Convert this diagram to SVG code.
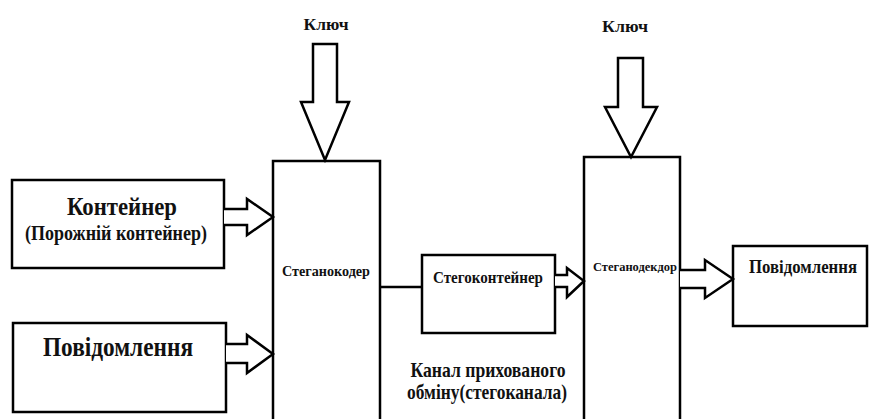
<svg xmlns="http://www.w3.org/2000/svg" width="870" height="419" viewBox="0 0 870 419">
<style>
.box{fill:#fff;stroke:#000;stroke-width:2.5}
.arr{fill:#fff;stroke:#000;stroke-width:2.5;stroke-linejoin:miter}
.ln{fill:none;stroke:#000;stroke-width:2.5}
.t{font-family:"Liberation Serif","Times New Roman",Times,serif;font-weight:bold;fill:#111;text-anchor:middle}
</style>
<rect width="870" height="419" fill="#fff"/>
<g id="coder">
<path class="box" d="M273,421 V161 H380 V421"/>
<text class="t" x="326" y="276" font-size="15" textLength="88" lengthAdjust="spacingAndGlyphs">Стеганокодер</text>
</g>
<g id="decoder">
<path class="box" d="M584,421 V157 H680 V421"/>
<text class="t" x="635" y="271" font-size="13" textLength="84" lengthAdjust="spacingAndGlyphs">Стеганодекдор</text>
</g>
<g id="container">
<rect class="box" x="12" y="180" width="212" height="88"/>
<text class="t" x="122" y="215" font-size="26" textLength="110" lengthAdjust="spacingAndGlyphs">Контейнер</text>
<text class="t" x="116" y="240" font-size="20" textLength="182" lengthAdjust="spacingAndGlyphs">(Порожній контейнер)</text>
</g>
<g id="message-in">
<rect class="box" x="13" y="323" width="213" height="89"/>
<text class="t" x="118" y="356" font-size="27" textLength="150" lengthAdjust="spacingAndGlyphs">Повідомлення</text>
</g>
<g id="stegocontainer">
<rect class="box" x="422" y="255" width="133" height="78"/>
<text class="t" x="488" y="283" font-size="16" textLength="110" lengthAdjust="spacingAndGlyphs">Стегоконтейнер</text>
</g>
<g id="message-out">
<rect class="box" x="733" y="246" width="134" height="80"/>
<text class="t" x="803" y="273" font-size="18" textLength="108" lengthAdjust="spacingAndGlyphs">Повідомлення</text>
</g>
<g id="key1">
<text class="t" x="326" y="30" font-size="17" textLength="45" lengthAdjust="spacingAndGlyphs">Ключ</text>
</g>
<g id="key2">
<text class="t" x="625" y="32" font-size="17" textLength="46" lengthAdjust="spacingAndGlyphs">Ключ</text>
</g>
<g id="channel-label">
<text class="t" x="488" y="377" font-size="21" textLength="155" lengthAdjust="spacingAndGlyphs">Канал прихованого</text>
<text class="t" x="487" y="399" font-size="21" textLength="160" lengthAdjust="spacingAndGlyphs">обміну(стегоканала)</text>
</g>
<g id="connectors">
<path class="arr" d="M313,44 H337 V102 H349 L325,160 L301,102 H313 Z"/>
<path class="arr" d="M618,58 H643 V107 H657 L631,157 L605,107 H618 Z"/>
<path class="arr" d="M224,209 H247 V199 L273,217 L247,235 V225 H224"/>
<path class="arr" d="M226,344 H247 V335 L273,354 L247,373 V363 H226"/>
<path class="arr" d="M555,275 H567 V268 L584,281 L567,297 V287 H555"/>
<path class="arr" d="M680,270 H705 V260 L733,279 L705,298 V288 H680"/>
<path class="ln" d="M380,287 H422"/>
</g>
</svg>
